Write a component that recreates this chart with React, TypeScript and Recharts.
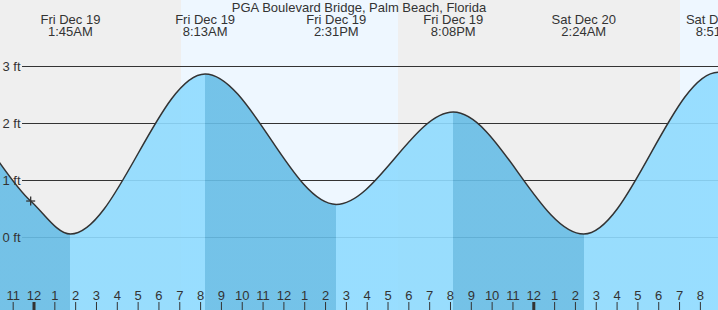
import { AreaChart, Area, XAxis, YAxis, CartesianGrid, ReferenceDot } from "recharts";

const W = 718;
const H = 310;
const FONT = '"Liberation Sans", Arial, sans-serif';
const INK = "#333";

const title = "PGA Boulevard Bridge, Palm Beach, Florida";

// hours after midnight, Fri Dec 19
const tideHours = [-10.8, -4.55, 1.75, 8.217, 14.517, 20.133, 26.4, 32.85, 39.1];
const tideFeet = [0.55, 2.35, 0.06, 2.87, 0.58, 2.2, 0.06, 2.9, 0.5];
const tideDays = ["", "", "Fri Dec 19", "Fri Dec 19", "Fri Dec 19", "Fri Dec 19", "Sat Dec 20", "Sat Dec 20", ""];
const tideClock = ["", "", "1:45AM", "8:13AM", "2:31PM", "8:08PM", "2:24AM", "8:51AM", ""];

const nowHour = -0.16;
const nowFeet = 0.64;

// sunrise, sunset, sunrise
const sunHours = [7.06, 17.48, 31.02];

const hourTicks = [
  -1, 0, 1, 2, 3, 4, 5, 6, 7, 8, 9, 10, 11, 12, 13, 14, 15, 16, 17, 18, 19, 20, 21, 22, 23,
  24, 25, 26, 27, 28, 29, 30, 31, 32,
];
const feetTicks = [0, 1, 2, 3];

const hourDomain: [number, number] = [-1.633, 32.846];
const feetDomain: [number, number] = [-1.272, 4.167];

const NIGHT = "#efefef";
const DAY = "#eef7ff";
const RISING = "#8fdbff";
const FALLING = "#67bde6";

const data = tideHours
  .map((h, i) => ({ h, ft: tideFeet[i] }))
  .concat([{ h: nowHour, ft: nowFeet }])
  .sort((a, b) => a.h - b.h);

const span = hourDomain[1] - hourDomain[0];
const frac = (h: number) => (h - hourDomain[0]) / span;
const isHigh = (i: number) => tideFeet[i] > tideFeet[i === 0 ? 1 : i - 1];

function HourTick(props: any) {
  const { x, payload } = props;
  const hr = ((payload.value % 24) + 24) % 24;
  const label = hr % 12 === 0 ? 12 : hr % 12;
  return (
    <g>
      <line x1={x} x2={x} y1={H - 8} y2={H} stroke={INK} strokeWidth={hr === 0 ? 3 : 1} />
      <text x={x} y={H - 10} textAnchor="middle" fontSize={13} fontFamily={FONT} fill={INK}>
        {label}
      </text>
    </g>
  );
}

function eventLabel(i: number) {
  return (props: any) => (
    <g>
      <text x={props.cx} y={24} textAnchor="middle" fontSize={13} fontFamily={FONT} fill={INK}>
        {tideDays[i]}
      </text>
      <text x={props.cx} y={36} textAnchor="middle" fontSize={13} fontFamily={FONT} fill={INK}>
        {tideClock[i]}
      </text>
    </g>
  );
}

function FeetTick(props: any) {
  const { y, payload } = props;
  return (
    <text x={2.5} y={y} dy={4.6} fontSize={13} fontFamily={FONT} fill={INK}>
      {`${payload.value} ft`}
    </text>
  );
}

function NowMark(props: any) {
  const { cx, cy } = props;
  return (
    <g stroke={INK} strokeWidth={1.3}>
      <line x1={cx - 4.5} x2={cx + 4.5} y1={cy} y2={cy} />
      <line x1={cx} x2={cx} y1={cy - 4.5} y2={cy + 4.5} />
    </g>
  );
}

export default function App() {
  return (
    <div style={{ position: "absolute", left: 0, top: 0, width: W, height: H, fontFamily: FONT }}>
      <AreaChart width={W} height={H} data={data} margin={{ top: 0, right: 0, bottom: 0, left: 0 }}>
        <defs>
          <linearGradient id="tideFill" gradientUnits="userSpaceOnUse" x1={0} y1={0} x2={W} y2={0}>
            <stop offset={0} stopColor={isHigh(0) ? RISING : FALLING} />
            {tideHours.map((h, i) => [
              <stop key={`a${i}`} offset={frac(h)} stopColor={isHigh(i) ? RISING : FALLING} />,
              <stop key={`b${i}`} offset={frac(h)} stopColor={isHigh(i) ? FALLING : RISING} />,
            ])}
          </linearGradient>
        </defs>
        <CartesianGrid
          horizontal={false}
          vertical
          stroke="none"
          fill={NIGHT}
          fillOpacity={1}
          verticalValues={sunHours}
          syncWithTicks
          verticalFill={[NIGHT, DAY]}
        />
        <CartesianGrid
          x={22}
          width={W - 22}
          vertical={false}
          horizontalValues={feetTicks}
          syncWithTicks
          stroke={INK}
          strokeWidth={1}
        />
        <Area
          dataKey="ft"
          type="monotone"
          stroke={INK}
          strokeWidth={1.5}
          fill="url(#tideFill)"
          fillOpacity={0.9}
          baseValue="dataMin"
          dot={false}
          activeDot={false}
          isAnimationActive={false}
        />
        <XAxis
          dataKey="h"
          type="number"
          domain={hourDomain}
          allowDataOverflow
          ticks={hourTicks}
          interval={0}
          height={1}
          mirror
          tickSize={0}
          axisLine={false}
          tickLine={false}
          tick={HourTick}
        />
        <YAxis
          type="number"
          domain={feetDomain}
          allowDataOverflow
          ticks={feetTicks}
          interval={0}
          width={1}
          mirror
          axisLine={false}
          tickLine={false}
          tick={FeetTick}
        />
        {tideHours.map((h, i) =>
          tideClock[i] ? (
            <ReferenceDot
              key={h}
              x={h}
              y={tideFeet[i]}
              r={0}
              ifOverflow="visible"
              shape={eventLabel(i)}
            />
          ) : null
        )}
        <ReferenceDot x={nowHour} y={nowFeet} shape={NowMark} />
      </AreaChart>
      <div
        style={{
          position: "absolute",
          left: 0,
          top: 0,
          width: W,
          textAlign: "center",
          fontSize: 13,
          lineHeight: "15px",
          color: INK,
          pointerEvents: "none",
        }}
      >
        {title}
      </div>
    </div>
  );
}
